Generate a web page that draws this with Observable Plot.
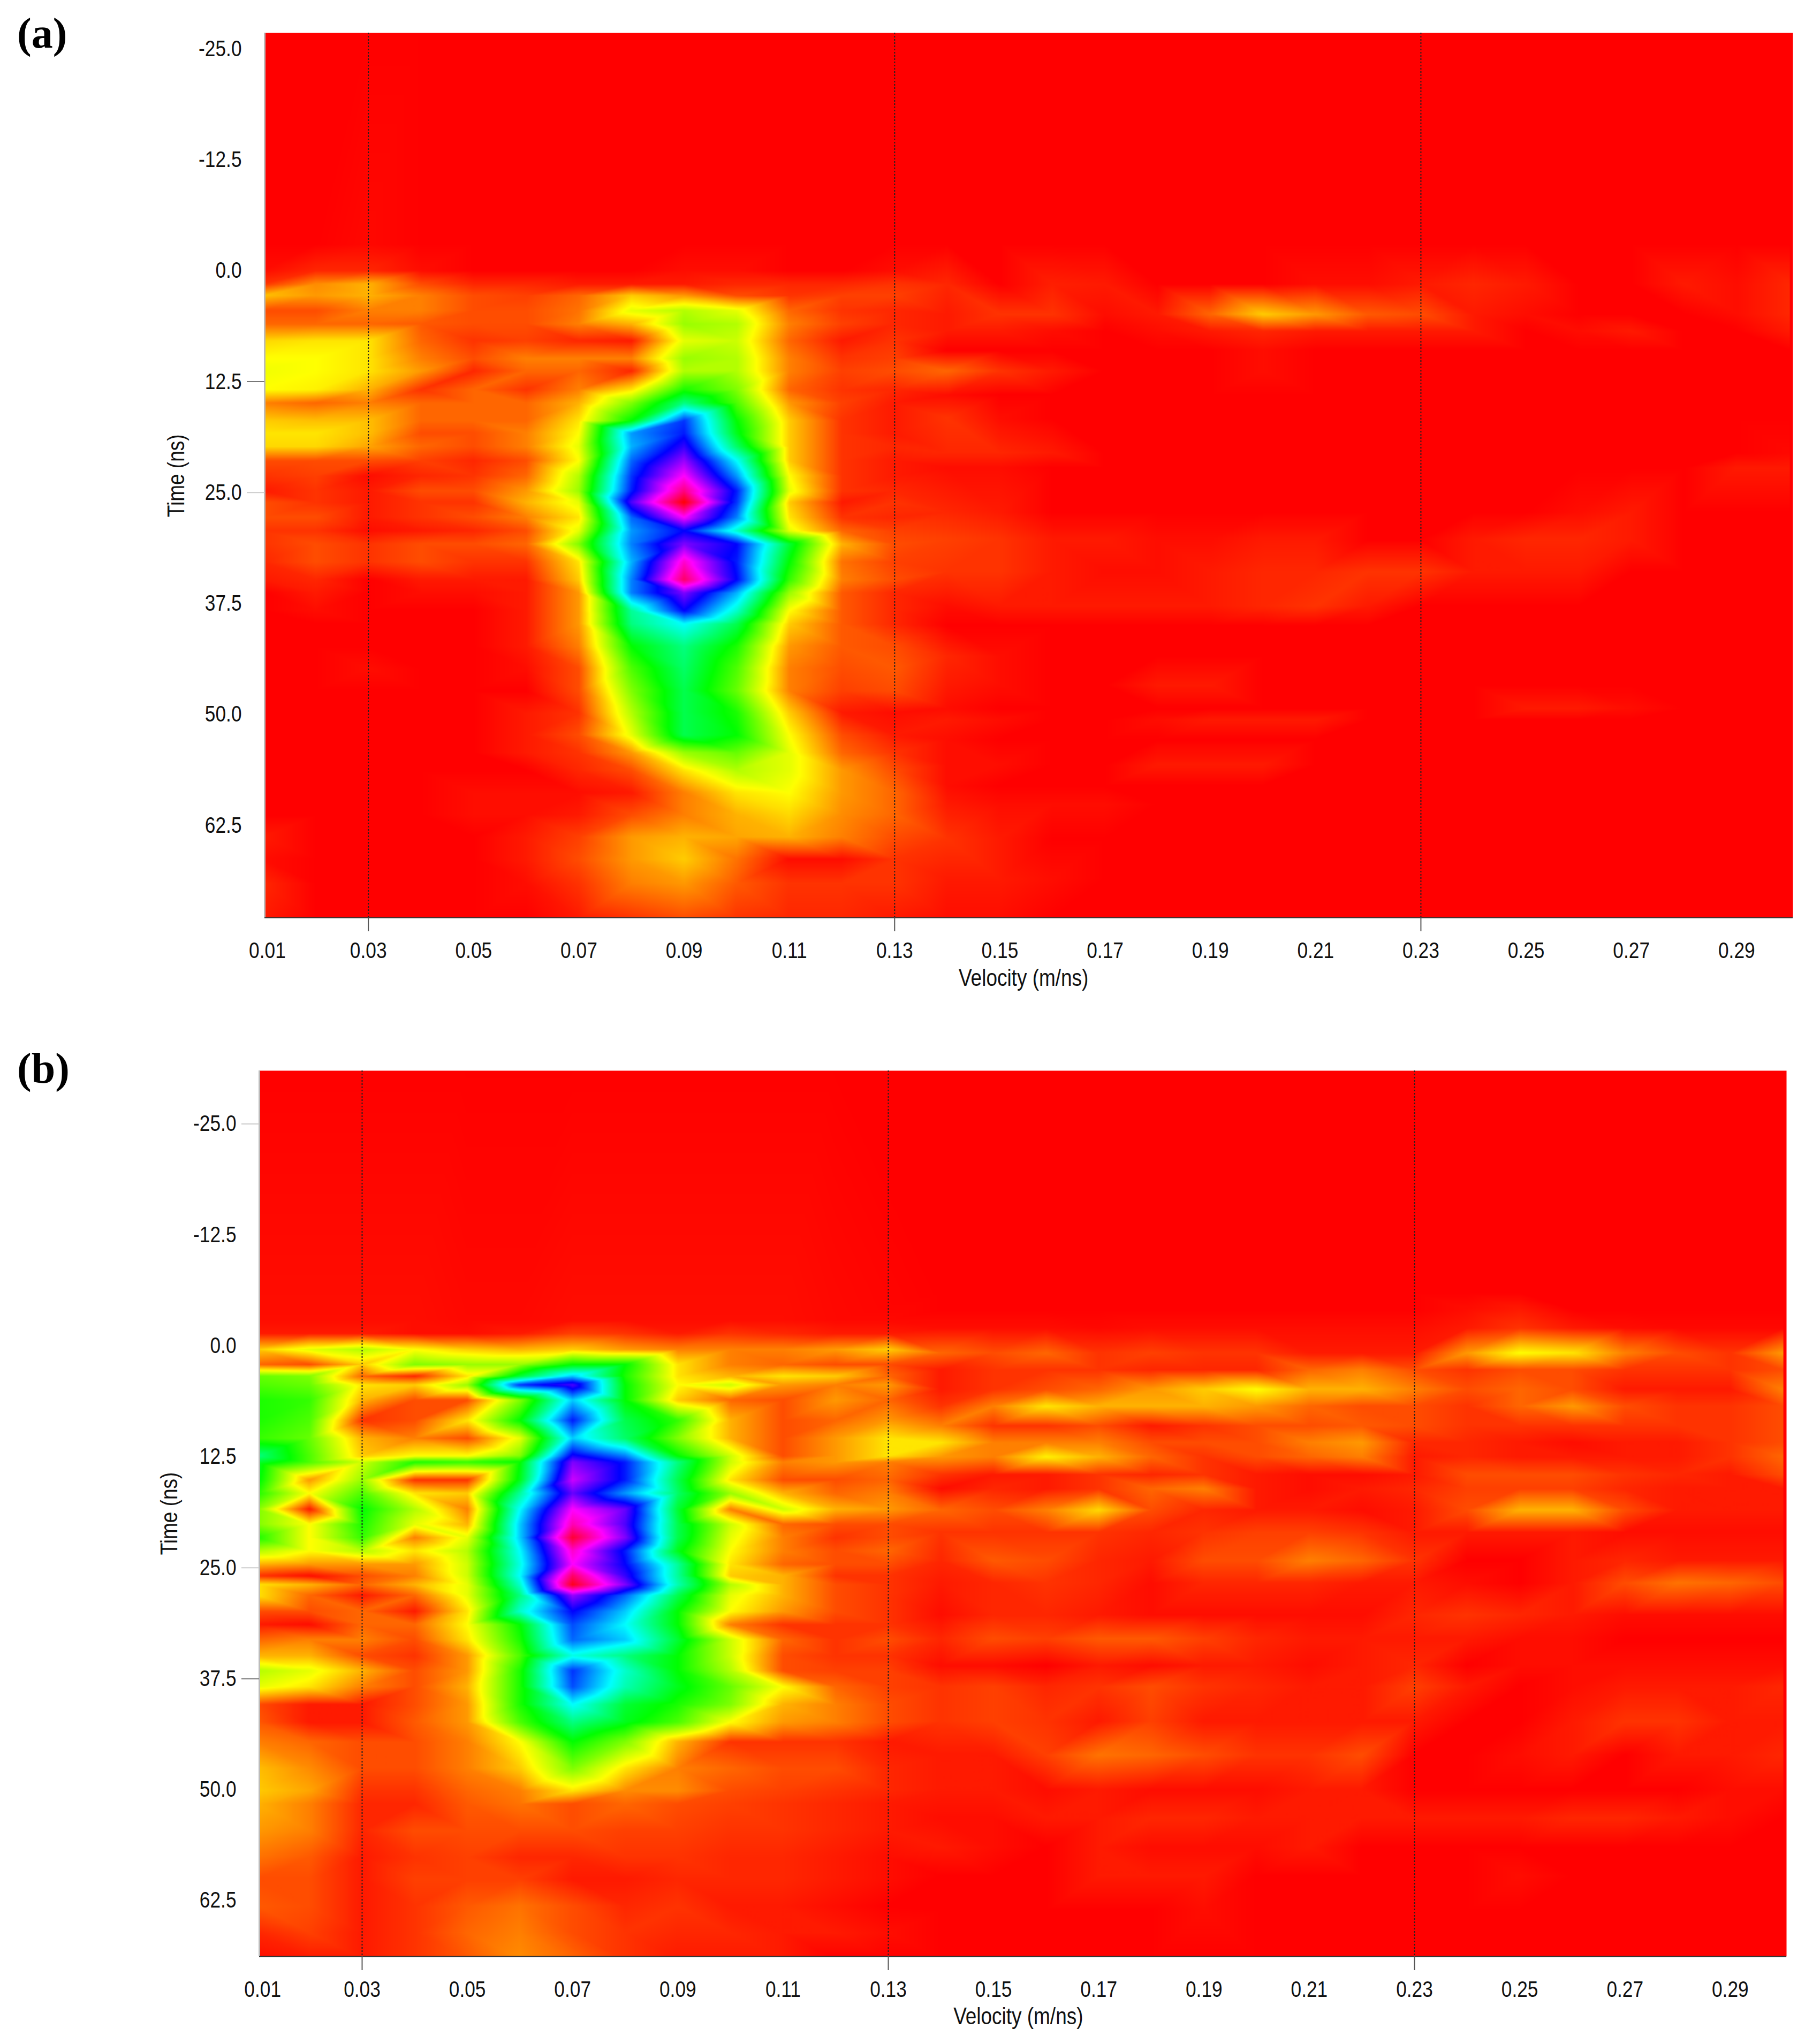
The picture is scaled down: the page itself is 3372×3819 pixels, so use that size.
<!DOCTYPE html>
<html><head><meta charset="utf-8">
<script src="https://cdn.jsdelivr.net/npm/d3@7"></script>
<script src="https://cdn.jsdelivr.net/npm/@observablehq/plot@0.6"></script>
<style>
html,body{margin:0;padding:0;background:#fff}
#page{position:relative;width:3372px;height:3819px;overflow:hidden}
#page svg{display:block}
.tag{position:absolute;left:32px;font:bold 80px/1 "Liberation Serif",serif;color:#000}
</style></head><body><div id="page"></div>
<script>
// Amplitude in hundredths: 0 = red, 100 = yellow, 200 = green, 300 = cyan, 400 = blue, 500 = magenta, 600 = red
const leftVelocities=[.01,.02,.03,.04,.05,.06,.07,.08,.09,.10,.11,.12,.13];
const rightVelocities=[.14,.15,.16,.17,.18,.19,.20,.21,.22,.23,.24,.25,.26,.27,.28,.29,.30];
const xTicksA=[.0108,.03,.05,.07,.09,.11,.13,.15,.17,.19,.21,.23,.25,.27,.29];
const xTicksB=[.0111,.03,.05,.07,.09,.11,.13,.15,.17,.19,.21,.23,.25,.27,.29];
const markedVelocities=[.03,.13,.23];
const yTicks=[-25,-12.5,0,12.5,25,37.5,50,62.5];

const timesLeftA=[-28,-3,0,1.5,2.8,4.5,6,7.9,9.9,11.3,13.4,14.9,16.9,18.3,19.8,21.4,23.1,24.8,26.1,27.8,29.3,30.8,32.8,34.8,36.3,38.3,39.8,42.3,44.8,47.3,49.8,52.3,54.3,56.3,58.8,61.3,63.8,66.3,69,73];
const gridLeftA=[
[0,0,0,0,0,0,0,0,0,0,0,0,0],
[0,0,3,0,0,0,0,0,0,0,0,0,0],
[5,15,15,5,0,0,0,0,5,5,0,0,5],
[20,55,70,30,15,15,10,10,10,15,15,15,20],
[75,60,70,50,30,25,40,80,60,30,20,25,25],
[30,30,50,50,30,30,45,110,130,110,40,20,15],
[40,40,40,35,30,30,50,70,140,130,50,25,15],
[85,90,90,40,20,25,15,10,110,120,40,10,20],
[100,100,90,50,30,50,50,50,140,130,50,20,25],
[105,100,90,60,15,40,40,15,130,130,50,25,30],
[100,95,70,20,40,20,50,90,190,150,40,20,15],
[50,40,50,40,40,40,70,150,250,170,60,25,10],
[80,75,75,40,40,40,90,200,380,200,80,20,10],
[90,90,75,30,30,50,100,340,390,210,80,20,10],
[85,85,65,40,30,50,110,330,420,240,80,20,15],
[30,30,30,25,15,30,100,360,460,300,80,20,10],
[20,25,5,15,20,40,130,380,500,340,100,20,10],
[10,20,10,30,30,60,140,390,550,390,110,20,15],
[30,20,10,20,20,70,110,430,600,380,80,10,20],
[30,30,10,20,30,50,90,360,500,350,90,20,15],
[20,20,5,10,15,30,110,340,400,280,110,40,25],
[20,30,20,30,30,40,150,350,450,400,220,70,30],
[15,30,20,30,20,20,90,330,520,390,200,45,25],
[10,15,0,10,10,10,80,350,560,400,180,50,30],
[0,10,0,5,5,10,60,350,450,330,140,35,15],
[0,5,0,0,0,10,60,260,400,280,100,35,15],
[0,0,0,0,0,10,60,250,300,230,80,35,15],
[0,0,0,0,0,10,50,200,250,190,60,35,30],
[0,0,5,0,0,5,30,170,240,170,50,30,35],
[0,0,0,0,0,0,30,150,230,160,50,25,30],
[0,0,0,0,0,10,20,130,230,190,80,10,5],
[0,0,0,0,0,10,30,110,230,200,100,30,10],
[0,0,0,0,0,10,20,60,140,160,110,40,20],
[0,0,0,0,0,0,15,30,90,130,110,60,30],
[0,0,0,0,5,5,5,10,50,90,100,60,40],
[0,0,0,0,5,5,10,30,50,70,85,55,40],
[10,0,0,0,0,10,25,60,70,65,70,50,30],
[5,0,0,0,0,10,30,60,80,45,5,5,20],
[15,0,0,0,0,5,20,50,60,35,20,20,20],
[10,0,0,0,0,0,10,20,30,20,15,15,10]];

const timesRightA=[-28,-3,1.5,4.9,6.8,9,11.3,14,16.6,20.5,22.2,27.2,30.3,33.9,37.8,40,43.4,46.7,49.3,50.6,52.8,55.7,58,60.1,64,68.5,73];
const gridRightA=[
[0,0,0,0,0,0,0,0,0,0,0,0,0,0,0,0,0],
[0,0,0,0,0,0,0,0,0,0,0,0,0,0,0,0,0],
[15,0,12,10,0,0,0,5,5,10,15,10,0,0,10,5,15],
[10,20,20,5,10,40,80,60,35,30,10,5,0,0,0,5,15],
[10,10,5,0,5,10,15,10,10,10,10,0,5,10,0,0,10],
[0,0,0,0,0,0,5,0,0,0,0,0,0,0,0,0,0],
[40,20,10,0,0,0,5,0,0,0,0,0,0,0,0,0,0],
[5,0,0,0,0,0,0,0,0,0,0,0,0,0,0,0,0],
[20,5,0,0,0,0,0,0,0,0,0,0,0,0,0,0,0],
[15,15,10,0,0,0,0,0,0,0,0,0,0,0,0,0,3],
[5,5,0,0,0,0,0,0,0,0,0,0,0,0,0,10,10],
[15,10,0,0,0,0,0,0,0,0,0,0,5,10,0,0,0],
[25,20,10,10,5,5,10,10,0,0,10,15,15,10,0,0,0],
[20,20,10,5,5,10,15,15,20,20,10,10,10,0,0,0,0],
[5,10,10,10,10,10,15,20,10,0,0,0,0,0,0,0,0],
[0,0,0,0,0,0,0,0,0,0,0,0,0,0,0,0,0],
[15,5,0,0,0,0,0,0,0,0,0,0,0,0,0,0,0],
[10,5,0,0,10,10,0,0,0,0,0,0,0,0,0,0,0],
[5,0,0,0,0,0,0,0,0,0,0,10,10,5,0,0,0],
[10,5,0,0,5,10,10,10,0,0,0,0,0,0,0,0,0],
[5,0,0,0,0,0,0,0,0,0,0,0,0,0,0,0,0],
[5,5,0,0,10,10,10,0,0,0,0,0,0,0,0,0,0],
[5,0,0,0,0,0,0,0,0,0,0,0,0,0,0,0,0],
[10,5,5,5,0,0,0,0,0,0,0,0,0,0,0,0,0],
[20,10,0,0,0,0,0,0,0,0,0,0,0,0,0,0,0],
[10,10,5,0,0,0,0,0,0,0,0,0,0,0,0,0,0],
[5,5,0,0,0,0,0,0,0,0,0,0,0,0,0,0,0]];

const timesLeftB=[-32,-2.9,-1.4,.4,2.1,3.4,4.4,6.1,8.4,10.4,12.4,13.1,15.1,16.6,18.4,20.1,21.6,23.1,24.6,25.9,26.9,28.1,29.9,31.4,33.1,34.9,36.6,38.4,40.4,42.4,44.6,47.6,50.1,51.6,54.6,57.6,60.1,63.1,66.1,69];
const gridLeftB=[
[0,0,0,0,0,0,0,0,0,0,0,0,0],
[5,5,5,5,3,3,5,5,5,5,5,3,3],
[10,10,10,5,5,10,25,20,10,20,15,10,10],
[80,110,130,100,80,70,80,60,50,50,50,60,80],
[40,30,80,150,140,140,200,200,90,50,40,30,30],
[160,150,40,15,90,220,320,190,90,70,90,80,40],
[170,160,90,80,140,380,430,200,100,120,60,50,60],
[190,180,70,30,30,150,320,200,80,40,30,60,40],
[190,170,20,30,90,200,390,230,180,70,30,40,60],
[180,160,70,50,30,110,320,240,150,70,30,60,90],
[250,170,80,100,100,150,410,350,200,120,30,60,90],
[220,170,120,190,180,200,450,390,250,120,50,60,50],
[210,60,140,20,20,210,480,390,230,90,30,30,40],
[190,100,170,90,80,260,440,340,240,140,70,40,50],
[150,10,200,130,50,300,500,440,220,50,120,70,60],
[150,100,190,110,70,320,530,430,230,120,40,30,30],
[190,100,180,50,110,320,580,450,230,110,50,20,30],
[130,100,130,90,130,300,520,390,210,100,50,30,40],
[70,60,60,60,120,290,500,400,260,90,40,30,30],
[20,5,30,50,120,300,560,420,260,80,70,20,20],
[90,70,40,70,110,280,590,450,270,130,70,30,20],
[90,40,10,40,110,250,460,360,230,110,70,30,20],
[30,30,40,10,90,280,400,320,200,100,60,30,20],
[10,5,40,40,100,200,370,300,200,50,20,20,20],
[40,50,50,30,90,190,360,320,220,120,40,20,30],
[70,70,30,20,60,170,290,250,200,120,30,20,20],
[130,110,70,30,60,190,380,280,200,130,30,25,25],
[110,90,50,30,70,190,370,270,210,160,100,40,25],
[30,10,10,30,60,190,300,220,190,150,70,50,30],
[35,10,10,35,60,170,250,210,170,100,60,50,30],
[50,40,30,30,50,100,200,150,70,20,20,20,10],
[75,55,30,30,50,80,150,90,50,40,30,30,15],
[80,65,20,20,40,50,90,55,55,30,25,20,15],
[70,50,15,15,35,45,30,40,30,25,20,15,10],
[60,50,15,30,30,30,30,25,25,20,20,15,10],
[45,35,10,20,25,15,15,20,20,15,15,10,5],
[30,30,10,25,25,25,10,10,15,15,15,10,5],
[35,30,10,20,35,45,30,15,20,10,10,5,0],
[15,25,10,20,40,50,30,20,15,15,10,10,5],
[5,10,10,20,35,55,40,20,10,10,10,0,0]];

const timesRightB=[-32,-6,-4.1,-2,.8,2.7,4.9,6.8,9,10.9,12.5,14.5,16.1,18.5,21,24.2,26.7,30.3,33,36,38.4,42.3,46.1,50,53.2,56.5,59.7,63.6,69];
const gridRightB=[
[0,0,0,0,0,0,0,0,0,0,0,0,0,0,0,0,0],
[0,0,0,0,0,0,0,0,0,0,0,0,0,0,0,0,0],
[0,0,0,0,0,0,0,0,0,0,5,10,0,0,0,0,0],
[5,5,5,3,5,5,5,5,5,5,10,20,10,5,3,3,3],
[40,30,40,20,25,20,20,10,10,10,60,100,90,50,30,20,60],
[10,20,20,20,15,15,15,40,50,30,20,30,30,20,20,20,30],
[10,20,30,40,60,80,100,70,70,50,30,40,30,10,10,10,50],
[20,50,90,70,70,70,60,40,30,30,20,40,60,30,20,20,30],
[50,20,20,30,10,20,30,30,35,30,20,20,20,20,20,20,30],
[90,50,50,50,30,30,30,50,60,15,15,10,5,10,10,20,30],
[60,50,95,70,40,20,30,40,50,10,15,10,10,10,10,20,40],
[20,10,10,20,15,20,10,5,5,10,30,30,30,20,15,10,30],
[5,15,10,20,40,50,10,5,10,15,25,25,25,15,10,10,10],
[40,30,50,85,30,15,10,10,5,10,30,70,70,30,10,10,10],
[20,20,20,20,15,20,25,25,20,10,10,10,10,5,5,5,5],
[15,35,30,15,10,30,30,50,40,20,0,0,10,15,10,10,10],
[10,15,20,15,5,15,15,15,10,10,5,0,10,30,45,40,30],
[5,15,15,10,5,5,5,5,5,15,20,15,10,5,5,5,5],
[15,30,25,35,35,25,15,10,10,10,10,5,5,0,0,0,0],
[5,5,0,10,5,10,10,5,10,15,0,5,5,5,5,5,5],
[20,25,15,20,30,20,15,10,10,25,10,0,5,10,10,10,15],
[20,25,20,10,25,10,10,10,10,10,0,0,10,20,20,10,10],
[10,10,25,45,40,30,20,20,30,0,0,5,10,0,10,10,15],
[10,10,5,10,5,5,5,10,10,0,0,0,0,0,0,5,5],
[5,5,10,10,15,15,10,10,10,10,10,10,15,15,10,5,0],
[10,5,0,10,5,5,5,10,0,0,0,0,0,0,0,0,0],
[0,0,0,10,10,10,0,0,0,0,0,5,0,0,0,0,0],
[0,0,0,0,0,5,0,0,0,0,0,0,0,0,0,0,0],
[0,0,0,0,0,0,0,0,0,0,0,0,0,0,0,0,0]];

const colorDomain=[0,100,200,300,400,500,600];
const colorRange=["#ff0000","#ffff00","#00ff00","#00ffff","#0000ff","#ff00ff","#ff0000"];
const font='"Liberation Sans",Arial,sans-serif';

function points(times,grid,velocities){
  return times.flatMap((t,i)=>velocities.map((v,j)=>({v,t,a:grid[i][j]})));
}

function panel(o){
  const pts=[...points(o.timesL,o.gridL,leftVelocities),...points(o.timesR,o.gridR,rightVelocities)];
  return Plot.plot({
    width:3372,height:o.height,
    marginLeft:o.ml,marginRight:o.mr,marginTop:o.mt,marginBottom:o.mb,
    style:{fontFamily:font,background:"#fff",color:"#111"},
    x:{domain:o.xDomain,axis:null},
    y:{domain:o.yDomain,reverse:true,axis:null},
    color:{type:"linear",domain:colorDomain,range:colorRange,interpolate:"rgb",clamp:true},
    marks:[
      Plot.raster(pts,{x:"v",y:"t",fill:"a",interpolate:"barycentric",pixelSize:2}),
      Plot.ruleX(markedVelocities,{stroke:"#222",strokeWidth:2,strokeDasharray:"3,3"}),
      Plot.ruleX([o.xDomain[0]],{stroke:"#bbb",strokeWidth:3}),
      Plot.ruleY([o.yDomain[1]],{stroke:"#333",strokeWidth:2}),
      Plot.axisX(o.xTicks,{anchor:"bottom",tickSize:0,tickPadding:46,tickFormat:d=>d.toFixed(2),fontSize:42,label:null}),
      Plot.axisX(markedVelocities,{anchor:"bottom",tickSize:26,fill:null,stroke:"#555",strokeWidth:2,label:null}),
      Plot.axisY(yTicks,{anchor:"left",tickSize:0,tickPadding:43,tickFormat:d=>d.toFixed(1),fontSize:42,label:null}),
      Plot.axisY(o.darkTicks,{anchor:"left",tickSize:33,fill:null,stroke:"#777",strokeWidth:2,label:null}),
      Plot.axisY(o.lightTicks,{anchor:"left",tickSize:33,fill:null,stroke:"#ccc",strokeWidth:2,label:null}),
      Plot.text(["Velocity (m/ns)"],{x:()=>o.xLabelAt,frameAnchor:"bottom",dy:o.xLabelDy,fontSize:44,fill:"#111"}),
      Plot.text(["Time (ns)"],{y:()=>o.yLabelAt,frameAnchor:"left",dx:o.yLabelDx,rotate:-90,textAnchor:"middle",fontSize:44,fill:"#111"})
    ]
  });
}

const page=document.getElementById("page");
page.append(panel({height:1905,ml:494,mr:23,mt:61,mb:191,
  xDomain:[.0103,.3007],yDomain:[-26.8,72.9],xTicks:xTicksA,
  darkTicks:[12.5],lightTicks:[25],
  timesL:timesLeftA,gridL:gridLeftA,timesR:timesRightA,gridR:gridRightA,
  xLabelAt:.1545,xLabelDy:127,yLabelAt:23.1,yLabelDx:-165}));
page.append(panel({height:1914,ml:484,mr:35,mt:95,mb:164,
  xDomain:[.01047,.3007],yDomain:[-31,68.8],xTicks:xTicksB,
  darkTicks:[37.5],lightTicks:[-25,25],
  timesL:timesLeftB,gridL:gridLeftB,timesR:timesRightB,gridR:gridRightB,
  xLabelAt:.1547,xLabelDy:126,yLabelAt:18.9,yLabelDx:-168}));
for(const [txt,top] of [["(a)",22],["(b)",1956]]){
  const d=document.createElement("div");d.className="tag";d.textContent=txt;d.style.top=top+"px";page.append(d);
}
// The reference lettering is condensed: narrow each label's glyphs to 84%.
page.querySelectorAll("svg text").forEach(t=>{
  if(!t.textContent) return;
  const n=t.getComputedTextLength();
  t.setAttribute("textLength",n*0.84);
  t.setAttribute("lengthAdjust","spacingAndGlyphs");
});
</script></body></html>
